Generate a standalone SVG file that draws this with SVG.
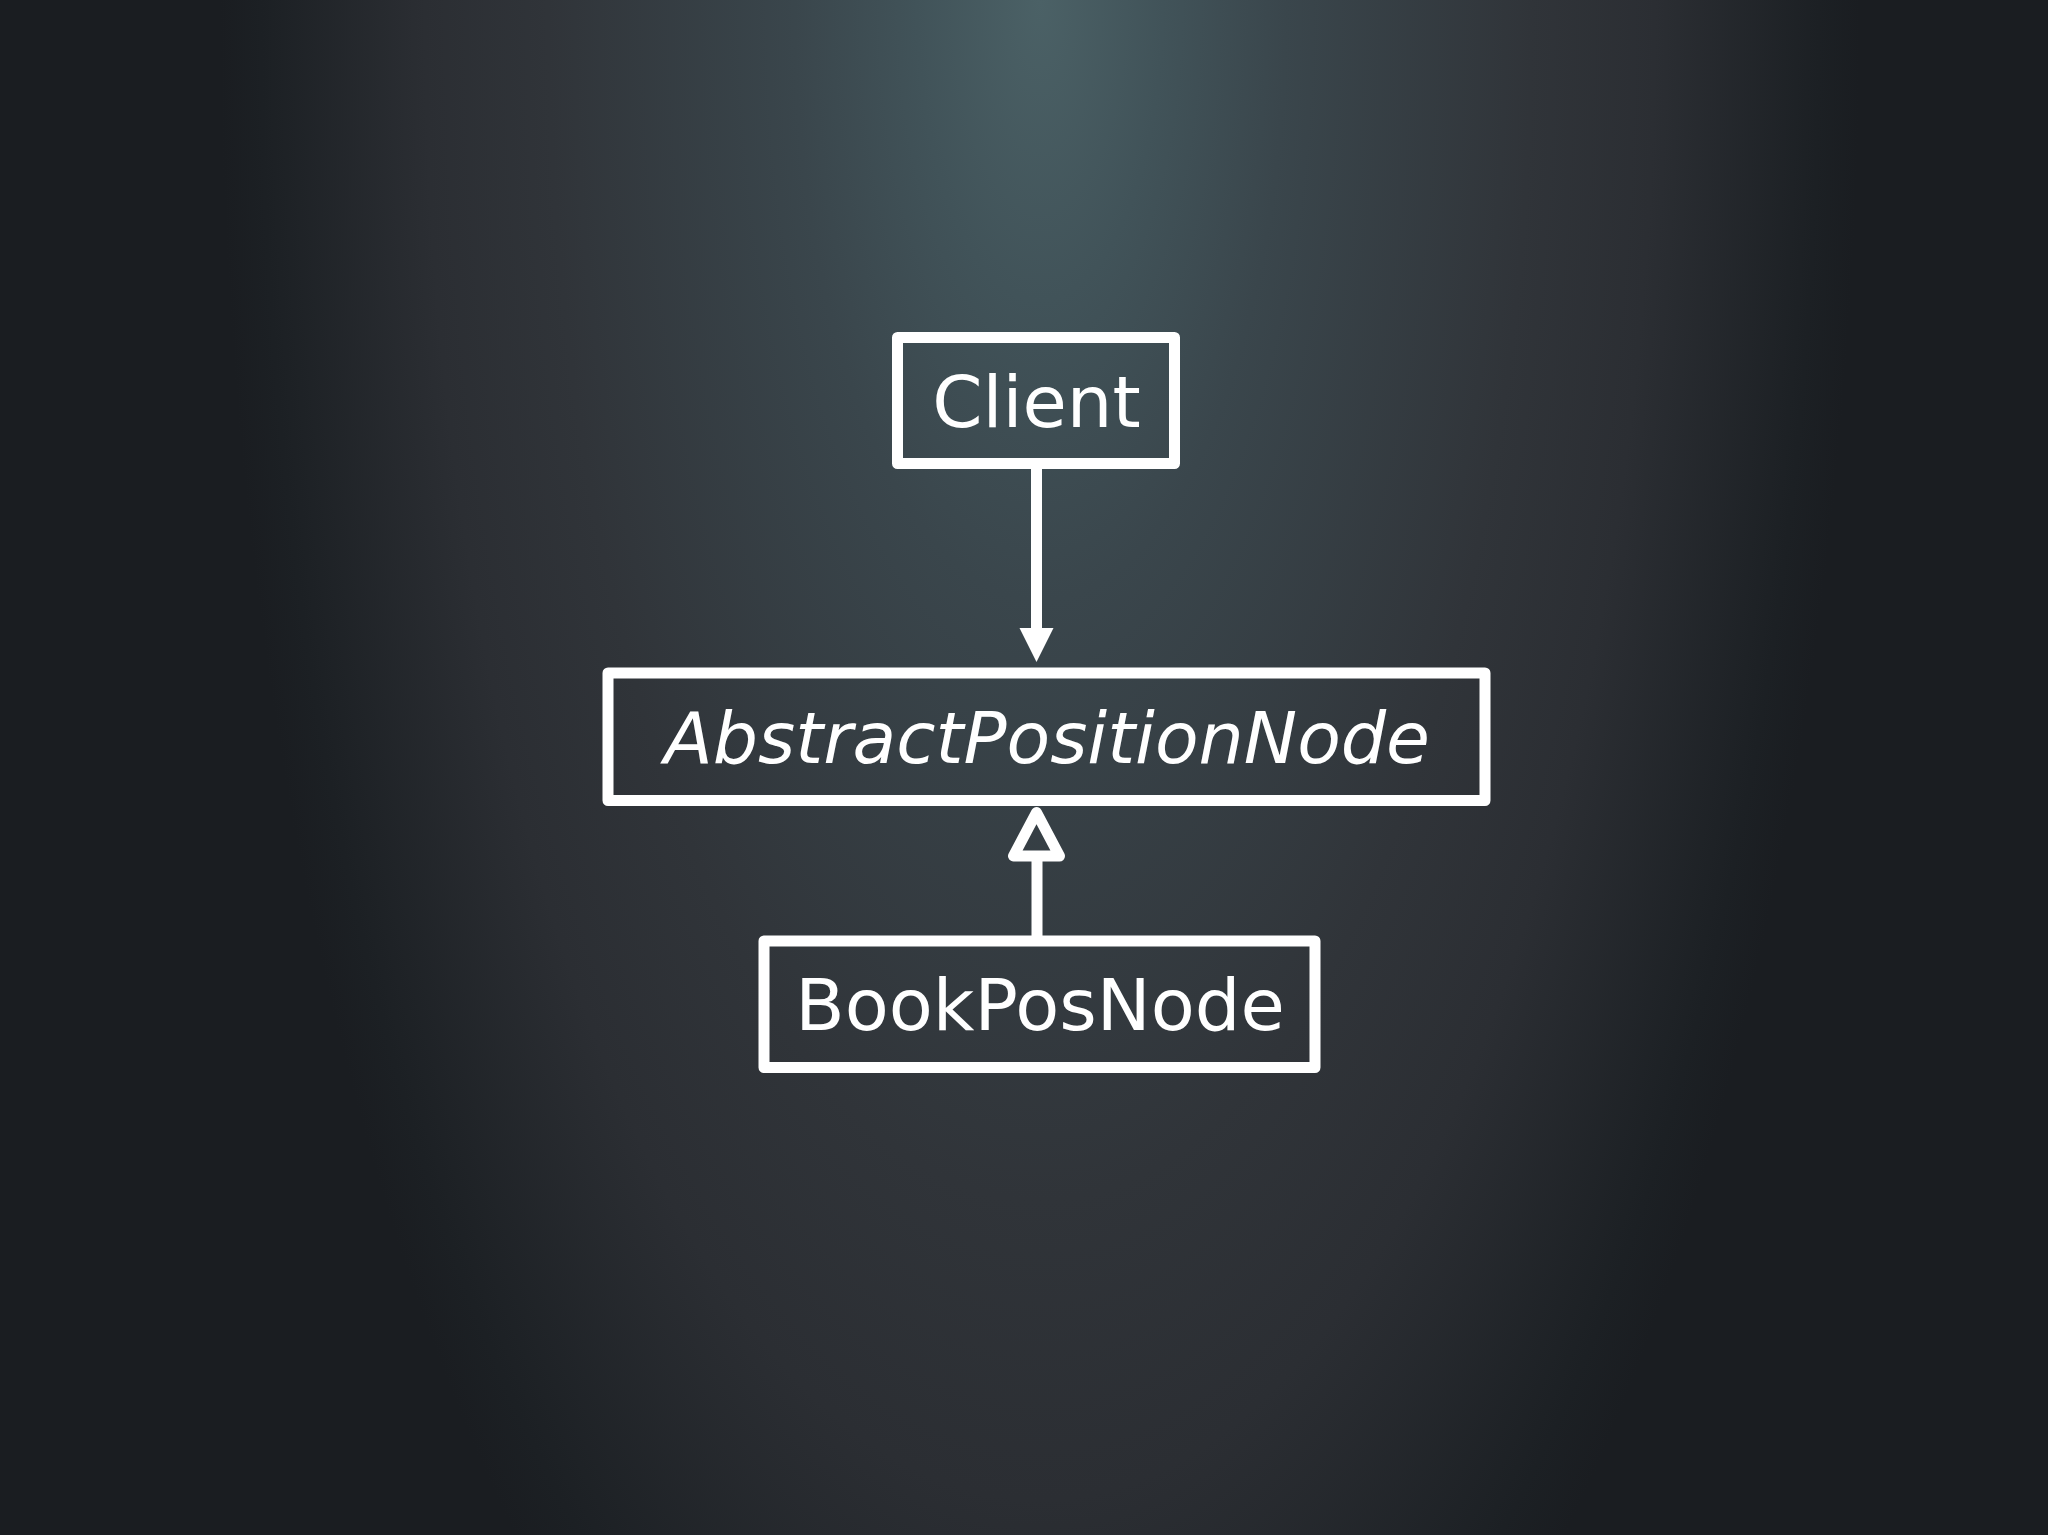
<svg xmlns="http://www.w3.org/2000/svg" width="2048" height="1535" viewBox="0 0 2048 1535">
  <defs>
    <radialGradient id="bg" gradientUnits="userSpaceOnUse" cx="0" cy="0" r="1" gradientTransform="translate(1040 0) scale(820 2000)">
      <stop offset="0" stop-color="#4b6166"/>
      <stop offset="0.15" stop-color="#415359"/>
      <stop offset="0.3" stop-color="#3a464c"/>
      <stop offset="0.6" stop-color="#303439"/>
      <stop offset="0.75" stop-color="#2b2e33"/>
      <stop offset="0.95" stop-color="#1c2024"/>
      <stop offset="1" stop-color="#1a1d21"/>
    </radialGradient>
    <style>
      .box { fill: none; stroke: #ffffff; stroke-width: 11; stroke-linejoin: round; }
      .lbl { fill: #ffffff; font-family: "DejaVu Sans", "Liberation Sans", sans-serif; font-size: 72px; text-anchor: middle; }
      .conn { stroke: #ffffff; stroke-width: 11; fill: none; }
    </style>
  </defs>
  <rect x="0" y="0" width="2048" height="1535" fill="url(#bg)"/>
  <g id="connectors">
    <line class="conn" x1="1036.5" y1="469" x2="1036.5" y2="632"/>
    <polygon points="1019.5,628 1053.5,628 1036.5,662" fill="#ffffff"/>
    <line class="conn" x1="1037" y1="946" x2="1037" y2="858"/>
    <polygon points="1036.5,812.5 1013.5,856 1059.5,856" fill="none" stroke="#ffffff" stroke-width="11" stroke-linejoin="round"/>
  </g>
  <g id="client">
    <rect class="box" x="897.5" y="337.5" width="277" height="126"/>
    <text class="lbl" x="1036.5" y="427">Client</text>
  </g>
  <g id="abstractPositionNode">
    <rect class="box" x="608" y="673" width="877" height="127.5"/>
    <text class="lbl" x="1047" y="763" font-style="italic" textLength="766" lengthAdjust="spacingAndGlyphs">AbstractPositionNode</text>
  </g>
  <g id="bookPosNode">
    <rect class="box" x="764" y="941" width="551" height="126.5"/>
    <text class="lbl" x="1040" y="1030">BookPosNode</text>
  </g>
</svg>
